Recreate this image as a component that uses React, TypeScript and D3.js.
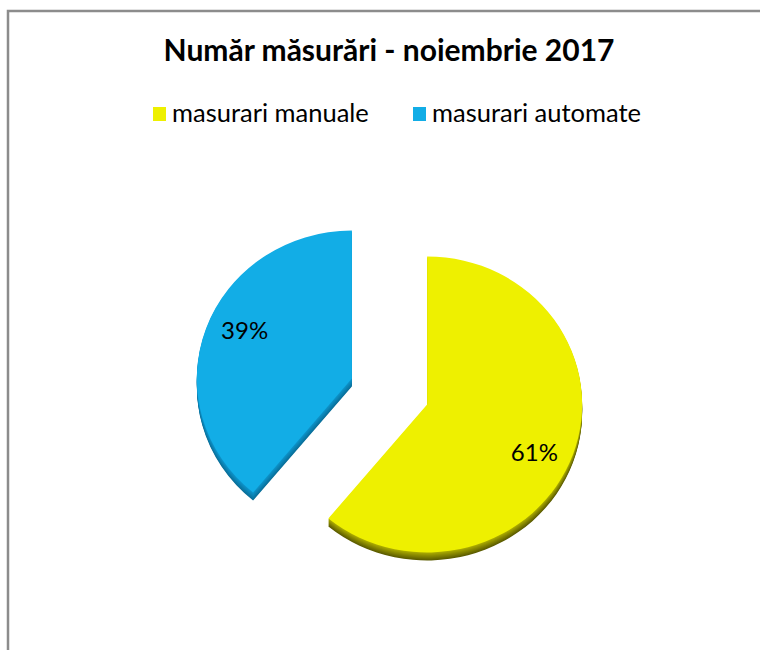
import { useMemo } from 'react';
import * as d3 from 'd3';

const title = 'Număr măsurări - noiembrie 2017';
const categories = ['masurari manuale', 'masurari automate'];
const values = [61, 39];
const colors = ['#eef000', '#12ade6'];
const sideColors = [
  ['#a8a800', '#5c5c00'],
  ['#0e92c8', '#0a6f99'],
];

const W = 760;
const H = 650;
const cx = 389.5;
const cy = 391.5;
const R = 155;
const squish = 0.955;
const explode = 40;
const depth = 8;
// labels sit a bit off the mid-angle, like the 3D layout does
const labelRx = 114;
const labelRy = 142;
const FONT = 'Lato, "Open Sans", sans-serif';

export default function App() {
  const slices = useMemo(() => {
    const pie = d3.pie<number>().sort(null).value((d) => d);
    return pie(values);
  }, []);

  const arc = d3.arc<d3.PieArcDatum<number>>().innerRadius(0).outerRadius(R);

  const layers = d3.range(depth, 0, -1);

  // blue is behind, draw it first
  const order = [1, 0];

  return (
    <svg width={W} height={H} style={{ display: 'block', position: 'absolute', left: 0, top: 0 }}>
      <rect x={0} y={0} width={W} height={H} fill="#fff" />
      <path d={`M8,${H + 5} L8,11 L${W + 5},11`} fill="none" stroke="#8c8c8c" strokeWidth={2.5} />

      <text
        x={389}
        y={61}
        textAnchor="middle"
        fontFamily={FONT}
        fontWeight={700}
        fontSize={30}
        fill="#000"
      >
        {title}
      </text>

      <g fontFamily={FONT} fontSize={25.5} fill="#000">
        {categories.map((c, i) => {
          const x0 = i === 0 ? 153 : 413;
          return (
            <g key={c} transform={`translate(${x0},107)`}>
              <rect width={13} height={14} fill={colors[i]} />
              <text x={19} y={15}>
                {c}
              </text>
            </g>
          );
        })}
      </g>

      {order.map((i) => {
        const s = slices[i];
        const mid = (s.startAngle + s.endAngle) / 2;
        const ox = explode * Math.sin(mid);
        const oy = -explode * Math.cos(mid) * squish;
        const sideScale = d3.scaleLinear<string>().domain([1, depth]).range(sideColors[i]);
        const lx = labelRx * Math.sin(mid);
        const ly = -labelRy * Math.cos(mid);
        return (
          <g key={i} transform={`translate(${cx + ox},${cy + oy})`}>
            {layers.map((k) => (
              <path
                key={k}
                d={arc(s) ?? ''}
                transform={`translate(0,${k}) scale(1,${squish})`}
                fill={sideScale(k)}
              />
            ))}
            <path d={arc(s) ?? ''} transform={`scale(1,${squish})`} fill={colors[i]} />
            <text
              x={lx}
              y={ly}
              textAnchor="middle"
              dy="0.35em"
              fontFamily={FONT}
              fontSize={24}
              fill="#000"
            >
              {values[i]}%
            </text>
          </g>
        );
      })}
    </svg>
  );
}
